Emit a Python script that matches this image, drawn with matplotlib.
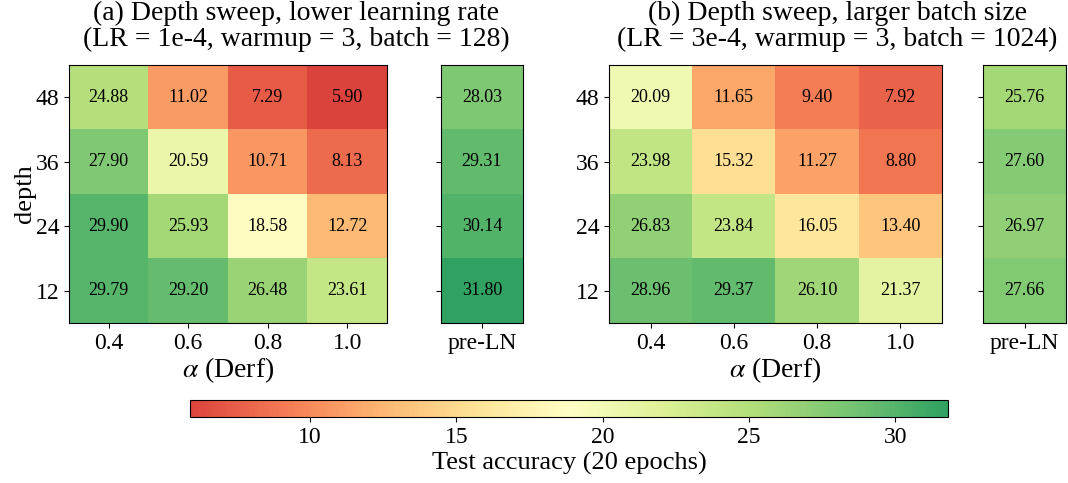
import numpy as np
import matplotlib
matplotlib.use("Agg")
import matplotlib.pyplot as plt
from matplotlib.colors import LinearSegmentedColormap, Normalize

plt.rcParams["font.family"] = ["Liberation Serif", "DejaVu Serif"]
plt.rcParams["mathtext.fontset"] = "stix"

# ------------------------------------------------------------
# Data
# ------------------------------------------------------------
depths = [48, 36, 24, 12]
alphas = ["0.4", "0.6", "0.8", "1.0"]

acc_a = np.array([
    [24.88, 11.02, 7.29, 5.90],
    [27.90, 20.59, 10.71, 8.13],
    [29.90, 25.93, 18.58, 12.72],
    [29.79, 29.20, 26.48, 23.61],
])
preln_a = np.array([28.03, 29.31, 30.14, 31.80])

acc_b = np.array([
    [20.09, 11.65, 9.40, 7.92],
    [23.98, 15.32, 11.27, 8.80],
    [26.83, 23.84, 16.05, 13.40],
    [28.96, 29.37, 26.10, 21.37],
])
preln_b = np.array([25.76, 27.60, 26.97, 27.66])

titles = [
    "(a) Depth sweep, lower learning rate\n(LR = 1e-4, warmup = 3, batch = 128)",
    "(b) Depth sweep, larger batch size\n(LR = 3e-4, warmup = 3, batch = 1024)",
]

vmin = min(acc_a.min(), acc_b.min(), preln_a.min(), preln_b.min())
vmax = max(acc_a.max(), acc_b.max(), preln_a.max(), preln_b.max())

# RdYlGn, trimmed at both ends and slightly washed out
base = plt.get_cmap("RdYlGn")
cols = base(np.linspace(0.1, 0.9, 256))
cols[:, :3] = 0.9 * cols[:, :3] + 0.1
cmap = LinearSegmentedColormap.from_list("rdylgn_t", cols)
norm = Normalize(vmin=vmin, vmax=vmax)

# ------------------------------------------------------------
# Figure
# ------------------------------------------------------------
W, H = 1068, 483
fig = plt.figure(figsize=(W / 100, H / 100), dpi=100)

def px_axes(x0, y0, x1, y1):
    return fig.add_axes([x0 / W, 1 - y1 / H, (x1 - x0) / W, (y1 - y0) / H])

layout = [
    ((69, 65, 387, 323), (441, 65, 523, 323)),
    ((609, 65, 942, 323), (983, 65, 1066, 323)),
]

for k, (acc, pre) in enumerate([(acc_a, preln_a), (acc_b, preln_b)]):
    box_h, box_p = layout[k]
    ax = px_axes(*box_h)
    axp = px_axes(*box_p)

    im = ax.imshow(acc, cmap=cmap, norm=norm, aspect="auto")
    for i in range(acc.shape[0]):
        for j in range(acc.shape[1]):
            ax.text(j, i, f"{acc[i, j]:.2f}", ha="center", va="center", fontsize=13)
    ax.set_xticks(range(len(alphas)))
    ax.set_xticklabels(alphas, fontsize=17)
    ax.set_yticks(range(len(depths)))
    ax.set_yticklabels(depths, fontsize=17)
    ax.set_xlabel(r"$\alpha$ (Derf)", fontsize=20, labelpad=1)
    if k == 0:
        ax.set_ylabel("depth", fontsize=19, labelpad=0)

    axp.imshow(pre.reshape(-1, 1), cmap=cmap, norm=norm, aspect="auto")
    for i in range(len(pre)):
        axp.text(0, i, f"{pre[i]:.2f}", ha="center", va="center", fontsize=13)
    axp.set_xticks([0])
    axp.set_xticklabels(["pre-LN"], fontsize=17)
    axp.set_yticks(range(len(depths)))
    axp.set_yticklabels([])

    cx = (box_h[0] + box_p[2]) / 2 / W
    fig.text(cx, 1 - 1 / H, titles[k], ha="center", va="top", fontsize=20,
             linespacing=1.05)

cax = px_axes(190, 400, 948, 417)
cb = fig.colorbar(im, cax=cax, orientation="horizontal")
cb.set_ticks([10, 15, 20, 25, 30])
cb.ax.tick_params(labelsize=17)
cb.set_label("Test accuracy (20 epochs)", fontsize=19, labelpad=3)

fig.savefig("out.png", dpi=100)
